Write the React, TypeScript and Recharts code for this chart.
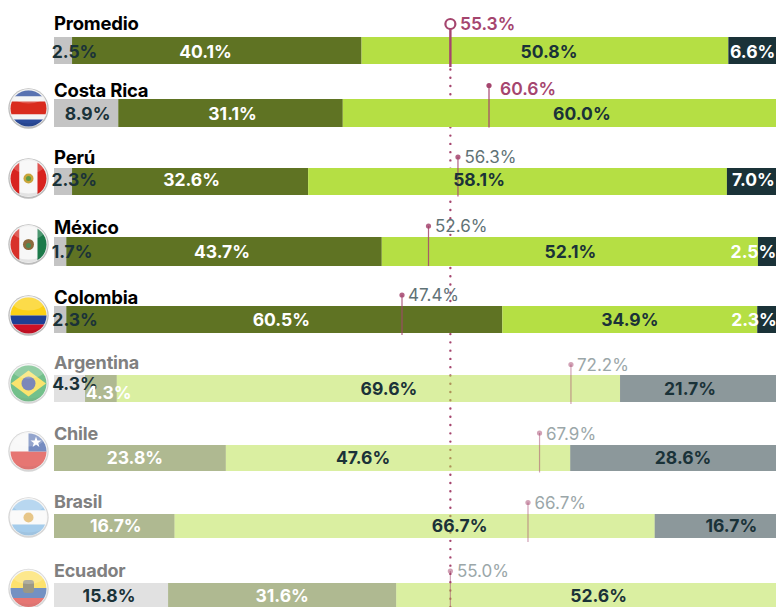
import React from 'react';
import { BarChart, Bar, XAxis, YAxis, LabelList, ReferenceDot, ReferenceLine } from 'recharts';

const WIDTH = 776;
const HEIGHT = 607;
const BAR_LEFT = 54;
const FONT = 'Inter, "Liberation Sans", sans-serif';

const COUNTRIES = ['Promedio', 'Costa Rica', 'Perú', 'México', 'Colombia', 'Argentina', 'Chile', 'Brasil', 'Ecuador'];

// Segment widths
const GREY_VALUES = [2.5, 8.9, 2.5, 1.7, 1.7, 4.3, 0, 0, 15.8];
const OLIVE_VALUES = [40.1, 31.1, 32.7, 43.7, 60.4, 4.4, 23.8, 16.7, 31.6];
const LIME_VALUES = [50.8, 60.0, 58.0, 52.1, 35.3, 69.7, 47.7, 66.5, 52.6];
const DARK_VALUES = [6.6, 0, 6.8, 2.5, 2.6, 21.6, 28.5, 16.8, 0];

const GREY_LABELS = ['2.5%', '8.9%', '2.3%', '1.7%', '2.3%', '4.3%', '', '', '15.8%'];
const OLIVE_LABELS = ['40.1%', '31.1%', '32.6%', '43.7%', '60.5%', '4.3%', '23.8%', '16.7%', '31.6%'];
const LIME_LABELS = ['50.8%', '60.0%', '58.1%', '52.1%', '34.9%', '69.6%', '47.6%', '66.7%', '52.6%'];
const DARK_LABELS = ['6.6%', '', '7.0%', '2.5%', '2.3%', '21.7%', '28.6%', '16.7%', ''];

// Where the pin sits on the 0-100 axis, and what it says
const MARKER_VALUES = [54.9, 60.25, 55.95, 51.87, 48.2, 71.6, 67.25, 65.65, 54.9];
const MARKER_LABELS = ['55.3%', '60.6%', '56.3%', '52.6%', '47.4%', '72.2%', '67.9%', '66.7%', '55.0%'];
const AVERAGE_LINE = 54.9;

// Layout per row (the source bars are not evenly spaced)
const BAR_TOPS = [37, 99, 168, 237, 306, 375, 445, 514, 583];
const BAR_HEIGHTS = [27, 28, 27, 29, 27, 27, 26, 24, 27];
const PIN_TOPS = [24, 85.5, 157, 226, 295, 364.5, 433, 502.5, 571];
const PIN_BOTTOMS = [67, 127.5, 196.5, 266, 335, 404, 472.5, 542, 612];
const PIN_TEXT_GAPS = [9.5, 11, 6.5, 6.5, 6, 6, 6.5, 6.5, 6.5];
const PIN_TEXT_BASES = [29.5, 94.5, 163, 232, 301, 371, 439.5, 508.5, 576.5];
const NAME_BASES = [30, 96.5, 164, 234, 304, 369, 440, 508, 576.5];
const FLAG_CENTERS = [0, 108.5, 178.5, 244.5, 315.5, 383.5, 451.5, 517.5, 589];

// [dx, dy] from each segment's centre, for grey / olive / lime / dark
const LABEL_NUDGES: [number, number][][] = [
  [[11.5, 1], [-11.3, 1], [4, 1], [0.5, 1]],
  [[1.5, 0.5], [2, 0.5], [22.5, 0.5], [0, 0]],
  [[11.3, -1.5], [1.5, -1.5], [-38.5, -1.5], [2, -1.5]],
  [[12, 0.5], [-2, 0.5], [0.5, 0.5], [-13.5, 0.5]],
  [[15, 0], [-3, 0], [0, 0], [-12.5, 0]],
  [[5.5, -4.5], [7.7, 4], [20.5, 0.5], [-8, 0.5]],
  [[0, 0], [-5, 0], [-35, 0], [10, 0]],
  [[0, 0], [1.5, 0], [45, 0], [16, 0]],
  [[-2, -0.5], [0, -0.5], [12.5, -0.5], [0, 0]],
];

const COLORS = ['#C4C4C4', '#5F7323', '#B5DF44', '#1A3238'];
const TEXT_DARK = '#1A3238';
const PIN_COLOR = '#A5456E';
const FADED_FROM = 5; // rows below this index are drawn at half strength

const SERIES = [
  { key: 'grey', values: GREY_VALUES, labels: GREY_LABELS },
  { key: 'olive', values: OLIVE_VALUES, labels: OLIVE_LABELS },
  { key: 'lime', values: LIME_VALUES, labels: LIME_LABELS },
  { key: 'dark', values: DARK_VALUES, labels: DARK_LABELS },
];

const labelFill = (rowIndex: number, seriesIndex: number) => {
  if (seriesIndex === 1) return '#FFFFFF';
  if (seriesIndex === 3 && rowIndex < FADED_FROM) return '#FFFFFF';
  return TEXT_DARK;
};

const CountryRow = ({ index }: { index: number }) => {
  const marginTop = 44;
  const marginBottom = 12;
  const barTop = BAR_TOPS[index];
  const barHeight = BAR_HEIGHTS[index];
  const chartTop = barTop - marginTop;
  const faded = index >= FADED_FROM;
  const name = COUNTRIES[index];

  const row: Record<string, string | number> = { name };
  SERIES.forEach(s => {
    row[s.key] = s.values[index];
  });

  const renderPin = ({ cx }: any) => {
    const isMain = index === 0;
    const isStrong = index < 2;
    const top = PIN_TOPS[index] - chartTop;
    const bottom = PIN_BOTTOMS[index] - chartTop;
    const base = PIN_TEXT_BASES[index] - chartTop;
    const textColor = isStrong ? PIN_COLOR : faded ? '#9BA7A9' : '#5F7276';
    return (
      <g>
        <line
          x1={cx}
          x2={cx}
          y1={top}
          y2={bottom}
          stroke={PIN_COLOR}
          strokeOpacity={faded ? 0.5 : index < 2 ? 1 : 0.85}
          strokeWidth={isMain ? 2.4 : 1.2}
        />
        {isMain ? (
          <circle cx={cx} cy={top} r={5} fill="#FFFFFF" stroke={PIN_COLOR} strokeWidth={2.2} />
        ) : (
          <circle cx={cx} cy={top} r={2.6} fill={PIN_COLOR} fillOpacity={faded ? 0.5 : index < 2 ? 1 : 0.85} />
        )}
        <text
          x={cx + PIN_TEXT_GAPS[index]}
          y={base}
          fontFamily={FONT}
          fontSize={isStrong ? 17.5 : 17}
          fontWeight={isStrong ? 600 : 400}
          fill={textColor}
        >
          {MARKER_LABELS[index]}
        </text>
      </g>
    );
  };

  const renderLabel = (seriesIndex: number) => (props: any) => {
    const text = SERIES[seriesIndex].labels[index];
    if (!text) return null;
    const [dx, dy] = LABEL_NUDGES[index][seriesIndex];
    return (
      <text
        x={props.x + props.width / 2 + dx}
        y={props.y + props.height / 2 + 6 + dy}
        textAnchor="middle"
        fontFamily={FONT}
        fontSize={17.5}
        fontWeight={700}
        fill={labelFill(index, seriesIndex)}
      >
        {text}
      </text>
    );
  };

  return (
    <div style={{ position: 'absolute', left: 0, top: chartTop }}>
      <BarChart
        width={WIDTH}
        height={marginTop + barHeight + marginBottom}
        data={[row]}
        layout="vertical"
        barCategoryGap={0}
        margin={{ top: marginTop, bottom: marginBottom, left: BAR_LEFT, right: 0 }}
      >
        <XAxis type="number" domain={[0, 100]} hide />
        <YAxis type="category" dataKey="name" hide />
        {SERIES.map((s, seriesIndex) => (
          <Bar
            key={s.key}
            dataKey={s.key}
            stackId="row"
            fill={COLORS[seriesIndex]}
            fillOpacity={faded ? 0.5 : 1}
            isAnimationActive={false}
          >
            <LabelList content={renderLabel(seriesIndex)} />
          </Bar>
        ))}
        <ReferenceDot x={MARKER_VALUES[index]} y={name} ifOverflow="visible" shape={renderPin} />
      </BarChart>
    </div>
  );
};

const Flag = ({ index }: { index: number }) => {
  const cy = FLAG_CENTERS[index];
  const id = `flag-${index}`;
  const bands = (items: [number, number, string][]) =>
    items.map(([from, to, fill]) => <rect key={from} x={8} y={cy + from} width={41} height={to - from} fill={fill} />);
  const columns = (items: [number, number, string][]) =>
    items.map(([from, to, fill]) => <rect key={from} x={28.5 + from} y={cy - 20} width={to - from} height={40} fill={fill} />);

  let art: React.ReactNode = null;
  switch (COUNTRIES[index]) {
    case 'Costa Rica':
      art = bands([[-20, -12, '#2B4B9B'], [-12, -7, '#F4F4F4'], [-7, 6, '#D92B1E'], [6, 11, '#F4F4F4'], [11, 20, '#2B4B9B']]);
      break;
    case 'Perú':
      art = (
        <>
          {columns([[-20, -9, '#D8231F'], [-9, 9, '#F7F7F7'], [9, 20, '#D8231F']])}
          <circle cx={28.5} cy={cy} r={5} fill="#C9A53A" />
          <circle cx={28.5} cy={cy} r={2.5} fill="#5F9A45" />
        </>
      );
      break;
    case 'México':
      art = (
        <>
          {columns([[-20, -9, '#D8312A'], [-9, 9, '#F7F7F7'], [9, 20, '#1C7A4A']])}
          <circle cx={28.5} cy={cy} r={5.5} fill="#8C6A3C" />
          <circle cx={28.5} cy={cy + 1} r={2.5} fill="#4F8A52" />
        </>
      );
      break;
    case 'Colombia':
      art = bands([[-20, 0, '#FCD116'], [0, 9, '#1F3F94'], [9, 20, '#CE1126']]);
      break;
    case 'Argentina':
      art = (
        <>
          <rect x={8} y={cy - 20} width={41} height={40} fill="#1F9A45" />
          <polygon points={`11,${cy} 28.5,${cy - 13} 46,${cy} 28.5,${cy + 13}`} fill="#F7D417" />
          <circle cx={28.5} cy={cy} r={7} fill="#2B3F8F" />
        </>
      );
      break;
    case 'Chile':
      art = (
        <>
          <rect x={8} y={cy - 20} width={41} height={20} fill="#F4F4F4" />
          <rect x={8} y={cy} width={41} height={20} fill="#D8231F" />
          <rect x={28.5} y={cy - 20} width={20} height={20} fill="#23479A" />
          <polygon
            points={`36,${cy - 15} 37.4,${cy - 11} 41.5,${cy - 11} 38.2,${cy - 8.6} 39.4,${cy - 4.6} 36,${cy - 7} 32.6,${cy - 4.6} 33.8,${cy - 8.6} 30.5,${cy - 11} 34.6,${cy - 11}`}
            fill="#FFFFFF"
          />
        </>
      );
      break;
    case 'Brasil':
      art = (
        <>
          {bands([[-20, -7, '#6FAEE0'], [-7, 7, '#F7F7F7'], [7, 20, '#6FAEE0']])}
          <circle cx={28.5} cy={cy} r={5} fill="#D9A441" />
        </>
      );
      break;
    case 'Ecuador':
      art = (
        <>
          {bands([[-20, -1, '#FCD116'], [-1, 9, '#1F4F9E'], [9, 20, '#D8231F']])}
          <rect x={23} y={cy - 9} width={11} height={13} rx={3} fill="#5E5A3C" />
        </>
      );
      break;
  }

  return (
    <g opacity={index >= FADED_FROM ? 0.62 : 1}>
      <circle cx={28.5} cy={cy} r={20.2} fill="#BDBDBD" />
      <circle cx={28.5} cy={cy - 0.5} r={19} fill="#F2F2F2" />
      <clipPath id={id}>
        <circle cx={28.5} cy={cy} r={18} />
      </clipPath>
      <g clipPath={`url(#${id})`}>
        {art}
        <ellipse cx={28.5} cy={cy - 12} rx={15} ry={7} fill="#FFFFFF" opacity={0.22} />
        <path d={`M8 ${cy + 9} Q28.5 ${cy + 21} 49 ${cy + 9} L49 ${cy + 20} L8 ${cy + 20} Z`} fill="#000000" opacity={0.08} />
      </g>
    </g>
  );
};

const App = () => {
  return (
    <div
      style={{
        position: 'absolute',
        left: 0,
        top: 0,
        width: WIDTH,
        height: HEIGHT,
        overflow: 'hidden',
        background: '#FFFFFF',
      }}
    >
      <div style={{ position: 'absolute', left: 0, top: 0 }}>
        <BarChart
          width={WIDTH}
          height={HEIGHT}
          data={[{ name: 'all', empty: 0 }]}
          layout="vertical"
          margin={{ top: 67, bottom: 0, left: BAR_LEFT, right: 0 }}
        >
          <XAxis type="number" domain={[0, 100]} hide />
          <YAxis type="category" dataKey="name" hide />
          <Bar dataKey="empty" isAnimationActive={false} />
          <ReferenceLine
            x={AVERAGE_LINE}
            stroke={PIN_COLOR}
            strokeWidth={2.4}
            strokeDasharray="0 8.27"
            strokeLinecap="round"
            ifOverflow="visible"
          />
        </BarChart>
      </div>

      <svg width={WIDTH} height={HEIGHT} style={{ position: 'absolute', left: 0, top: 0 }}>
        {COUNTRIES.map((_, i) => (i > 0 ? <Flag key={i} index={i} /> : null))}
      </svg>

      {COUNTRIES.map((_, i) => (
        <CountryRow key={i} index={i} />
      ))}

      <svg width={WIDTH} height={HEIGHT} style={{ position: 'absolute', left: 0, top: 0, pointerEvents: 'none' }}>
        {COUNTRIES.map((name, i) => (
          <text
            key={name}
            x={BAR_LEFT}
            y={NAME_BASES[i]}
            fontFamily={FONT}
            fontSize={i >= FADED_FROM ? 18 : 18.5}
            fontWeight={700}
            letterSpacing={-0.2}
            fill={i >= FADED_FROM ? '#808080' : '#000000'}
          >
            {name}
          </text>
        ))}
      </svg>
    </div>
  );
};

export default App;
